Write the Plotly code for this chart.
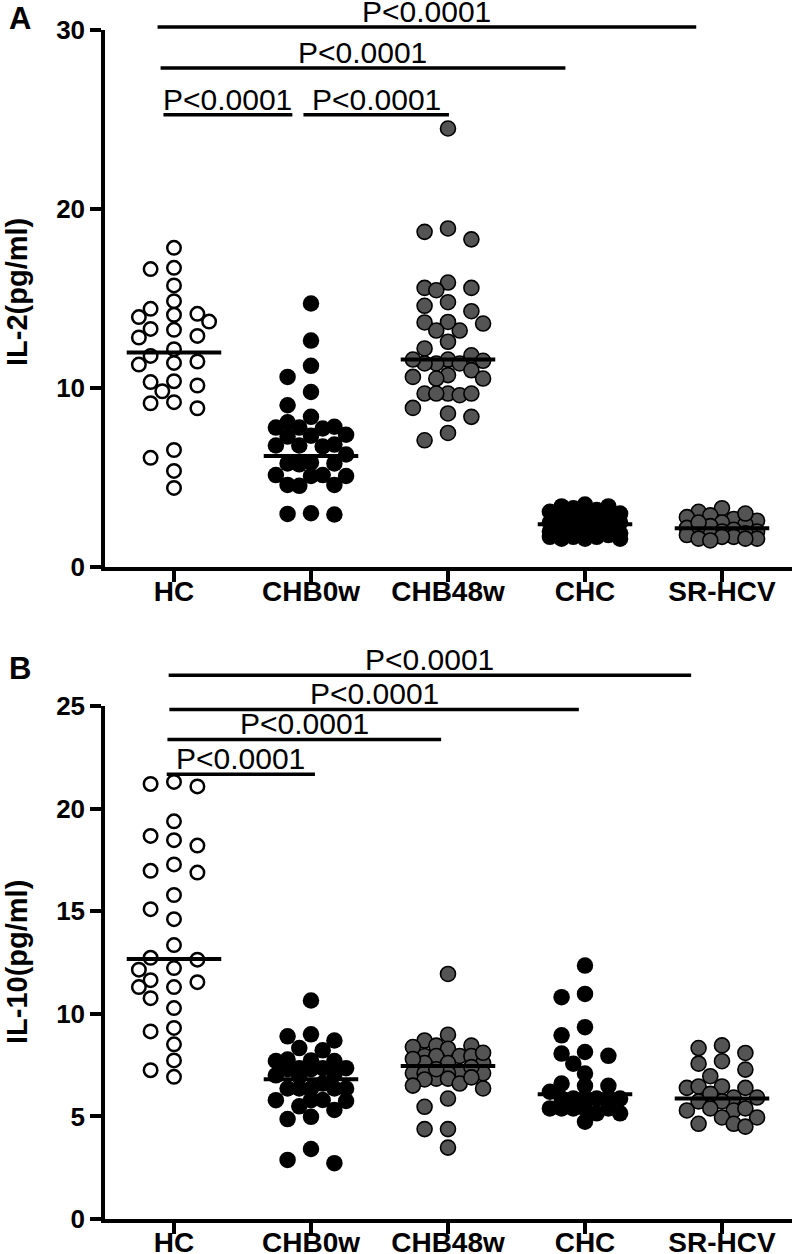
import numpy as np
import plotly.graph_objects as go

categories = ["HC", "CHB0w", "CHB48w", "CHC", "SR-HCV"]

# ---------------- Panel A : IL-2 (pg/ml) ----------------
il2_hc = [17.84, 16.65, 16.72, 15.74, 14.86, 14.43, 13.97, 14.10, 14.15, 13.72, 13.31, 13.26,
          12.92, 12.83, 12.18, 11.80, 11.32, 11.41, 11.49, 10.34, 10.15, 10.39, 9.83, 9.22,
          8.88, 9.16, 6.55, 6.11, 5.38, 4.43]
il2_chb0w = [14.73, 12.66, 11.25, 10.63, 9.79, 9.05, 8.40, 8.10, 7.85, 7.80, 7.75, 7.80, 7.40,
             7.35, 7.30, 6.85, 6.80, 6.75, 6.80, 6.30, 5.85, 5.80, 5.75, 5.80, 5.15, 5.10,
             5.15, 5.10, 4.60, 4.55, 4.60, 3.02, 2.95, 2.98]
il2_chb48w = [24.5, 18.73, 18.31, 18.92, 15.90, 15.60, 15.60, 15.47, 14.80, 14.60, 14.30, 13.67,
              13.22, 13.61, 13.70, 13.22, 12.59, 12.22, 11.84, 11.60, 11.38, 11.38, 11.53, 11.38,
              11.60, 11.0, 10.73, 10.63, 10.54, 10.54, 9.70, 9.70, 9.61, 9.70, 9.70, 8.90,
              8.59, 8.40, 7.50, 7.09]
il2_chc = [3.4, 3.5, 3.3, 3.4, 3.2, 3.0, 2.9, 2.8, 2.7, 2.6, 2.5, 2.5, 2.4, 2.3, 2.2, 2.1, 2.0,
           2.0, 1.9, 1.8, 1.8, 1.7, 1.7, 1.6, 1.6, 1.6, 1.7, 1.8, 3.1, 2.6]
il2_srhcv = [3.3, 3.1, 2.9, 2.8, 2.7, 2.6, 2.5, 2.4, 2.3, 2.2, 2.1, 2.0, 2.0, 1.9, 1.9, 1.8, 1.8,
             1.7, 1.7, 1.6, 1.6, 1.5, 1.6, 2.5, 3.0]
il2_means = [12.0, 6.22, 11.6, 2.40, 2.18]

# ---------------- Panel B : IL-10 (pg/ml) ----------------
il10_hc = [21.30, 21.08, 21.20, 19.38, 18.67, 18.20, 18.46, 17.28, 16.97, 16.88, 15.79, 15.10,
           14.61, 13.35, 12.64, 12.73, 12.23, 12.15, 11.64, 11.30, 11.30, 11.54, 10.76, 10.28,
           9.14, 9.31, 8.51, 7.73, 7.25, 6.93]
il10_chb0w = [10.65, 9.0, 8.7, 8.9, 8.33, 8.22, 7.77, 7.73, 7.7, 7.7, 7.35, 7.3, 7.35, 7.3, 7.35,
              7.0, 6.95, 7.05, 6.6, 6.36, 6.36, 6.36, 6.36, 6.36, 5.79, 5.8, 5.75, 5.79, 5.49,
              5.31, 4.98, 4.87, 3.41, 2.72, 2.88]
il10_chb48w = [11.94, 8.98, 8.70, 8.45, 8.45, 8.38, 8.3, 7.94, 7.94, 7.94, 7.94, 7.6, 7.6, 7.6,
               7.1, 7.1, 7.1, 7.1, 7.1, 6.84, 6.84, 6.8, 6.5, 6.6, 6.36, 5.87, 5.47, 4.38, 4.38,
               3.48, 8.1, 7.3, 7.4, 7.8, 6.9]
il10_chc = [12.35, 10.97, 10.81, 9.35, 8.95, 7.95, 8.14, 8.06, 7.57, 7.09, 6.6, 6.49, 6.49, 5.87,
            5.87, 5.87, 5.87, 5.87, 5.87, 5.39, 5.39, 5.39, 5.39, 5.39, 5.15, 5.15, 4.74, 6.2]
il10_srhcv = [8.33, 8.46, 8.09, 7.57, 7.69, 7.28, 6.96, 6.39, 6.39, 6.46, 6.46, 5.92, 5.92, 5.73,
              5.73, 5.29, 5.29, 5.39, 5.39, 4.95, 4.95, 4.64, 4.64, 4.50, 6.1]
il10_means = [12.67, 6.81, 7.46, 6.08, 5.87]

p_text = "P<0.0001"
# comparisons: (x start, x end, bar level) in data units
il2_bars = [(-0.120, 3.812, 30.17), (-0.098, 2.857, 27.88), (-0.077, 0.864, 25.27), (0.945, 2.007, 25.27)]
il10_bars = [(-0.039, 3.775, 26.5), (-0.034, 2.955, 24.83), (-0.048, 1.950, 23.37), (-0.053, 1.029, 21.67)]

# ---------------- layout geometry ----------------
# the page body margin is removed (post_script), so the figure fills the 792x1254 window
W, H = 792, 1254
ML, MR, MT = 105, 0, 30
MB = H - 1219
XRANGE = [-0.5036, 4.511]
YA_RANGE = [0, 30]
YB_RANGE = [0, 25]
plot_w = W - ML - MR
plot_h = H - MT - MB


def paper_x(page_px):
    return (page_px - ML) / plot_w


def paper_y(page_py):
    return (H - MB - page_py) / plot_h


YA_DOM = [paper_y(567.3), 1.0]
YB_DOM = [0.0, paper_y(706.0)]
px_per_x = plot_w / (XRANGE[1] - XRANGE[0])
pxA = (YA_DOM[1] - YA_DOM[0]) * plot_h / (YA_RANGE[1] - YA_RANGE[0])
pxB = (YB_DOM[1] - YB_DOM[0]) * plot_h / (YB_RANGE[1] - YB_RANGE[0])

FONT = "Liberation Sans, Arial, Helvetica, sans-serif"
GRAY = "#545454"


def swarm(values, px_per_unit, step_px=11.7, dmin=15.0):
    """Deterministic beeswarm offsets (in x data units)."""
    vals = np.asarray(values, dtype=float)
    order = np.argsort(-vals, kind="stable")
    cand = [0, -2, 2, -1, 1, -3, 3]
    placed = []
    offs = np.zeros(len(vals))
    for i in order:
        y = vals[i] * px_per_unit
        chosen, bestk, bestd = None, 0, -1.0
        for k in cand:
            x = k * step_px
            d = min((np.hypot(x - a, y - b) for a, b in placed), default=1e9)
            if d >= dmin:
                chosen = k
                break
            if d > bestd:
                bestd, bestk = d, k
        if chosen is None:
            chosen = bestk
        placed.append((chosen * step_px, y))
        offs[i] = chosen * step_px / px_per_x
    return offs


open_style = dict(color="white", size=13.5, line=dict(color="black", width=2.5))
black_style = dict(color="black", size=16.5, line=dict(color="black", width=0))
gray_style = dict(color=GRAY, size=15, line=dict(color="black", width=1.6))
stylesA = [open_style, black_style, gray_style, black_style, gray_style]
stylesB = [open_style, black_style, gray_style, black_style, gray_style]

fig = go.Figure()

panels = [
    ("x", "y", [il2_hc, il2_chb0w, il2_chb48w, il2_chc, il2_srhcv], il2_means, pxA, stylesA),
    ("x2", "y2", [il10_hc, il10_chb0w, il10_chb48w, il10_chc, il10_srhcv], il10_means, pxB, stylesB),
]

for xa, ya, groups, means, ppu, sty in panels:
    for gi, vals in enumerate(groups):
        offs = swarm(vals, ppu)
        fig.add_trace(go.Scatter(
            x=gi + offs, y=vals, xaxis=xa, yaxis=ya, mode="markers",
            marker=dict(symbol="circle", **sty[gi]), cliponaxis=False,
            showlegend=False, hoverinfo="skip"))
    for gi, m in enumerate(means):
        fig.add_trace(go.Scatter(
            x=[gi - 0.345, gi + 0.345], y=[m, m], xaxis=xa, yaxis=ya, mode="lines",
            line=dict(color="black", width=4), showlegend=False, hoverinfo="skip"))


def xdom(v):
    return (v - XRANGE[0]) / (XRANGE[1] - XRANGE[0])


shapes, annotations = [], []
for xa, ya, bars, yr in [("x", "y", il2_bars, YA_RANGE), ("x2", "y2", il10_bars, YB_RANGE)]:
    for x0, x1, lev in bars:
        yd = (lev - yr[0]) / (yr[1] - yr[0])
        shapes.append(dict(type="line", xref=xa + " domain", yref=ya + " domain",
                           x0=xdom(x0), x1=xdom(x1), y0=yd, y1=yd,
                           line=dict(color="black", width=3.5)))
        annotations.append(dict(text=p_text, xref=xa + " domain", yref=ya + " domain",
                                x=xdom((x0 + x1) / 2), y=yd, xanchor="center", yanchor="bottom",
                                yshift=-3, showarrow=False,
                                font=dict(family=FONT, size=30, color="black")))

annotations += [
    dict(text="<b>IL-2(pg/ml)</b>", x=paper_x(17), y=paper_y(292), xref="paper", yref="paper",
         textangle=-90, showarrow=False, xanchor="center", yanchor="middle",
         font=dict(family=FONT, size=29, color="black")),
    dict(text="<b>IL-10(pg/ml)</b>", x=paper_x(17), y=paper_y(962), xref="paper", yref="paper",
         textangle=-90, showarrow=False, xanchor="center", yanchor="middle",
         font=dict(family=FONT, size=29, color="black")),
    dict(text="<b>A</b>", x=paper_x(20), y=paper_y(19), xref="paper", yref="paper",
         showarrow=False, xanchor="center", yanchor="middle",
         font=dict(family=FONT, size=31, color="black")),
    dict(text="<b>B</b>", x=paper_x(20), y=paper_y(668), xref="paper", yref="paper",
         showarrow=False, xanchor="center", yanchor="middle",
         font=dict(family=FONT, size=31, color="black")),
]

line_common = dict(showline=True, linewidth=3.5, linecolor="black", ticks="outside",
                   ticklen=11, tickwidth=3.5, tickcolor="black", showgrid=False, zeroline=False,
                   automargin=False)
xfont = dict(family=FONT, size=28, color="black", weight="bold")
yfont = dict(family=FONT, size=26, color="black", weight="bold")

fig.update_layout(
    width=W, height=H, margin=dict(l=ML, r=MR, t=MT, b=MB, autoexpand=False),
    paper_bgcolor="white", plot_bgcolor="white",
    shapes=shapes, annotations=annotations,
    xaxis=dict(domain=[0, 1], range=XRANGE, anchor="y", tickvals=list(range(5)),
               ticktext=categories, tickfont=xfont, ticklabelstandoff=-15, **line_common),
    yaxis=dict(domain=YA_DOM, range=YA_RANGE, anchor="x", tickvals=[0, 10, 20, 30],
               tickfont=yfont, ticklabelstandoff=0, **line_common),
    xaxis2=dict(domain=[0, 1], range=XRANGE, anchor="y2", tickvals=list(range(5)),
                ticktext=categories, tickfont=xfont, ticklabelstandoff=-15, **line_common),
    yaxis2=dict(domain=YB_DOM, range=YB_RANGE, anchor="x2", tickvals=[0, 5, 10, 15, 20, 25],
                tickfont=yfont, ticklabelstandoff=0, **line_common),
)

fig.write_html(
    "out.html",
    config={"displayModeBar": False},
    post_script="document.body.style.margin='0px';document.body.style.overflow='hidden';",
)
